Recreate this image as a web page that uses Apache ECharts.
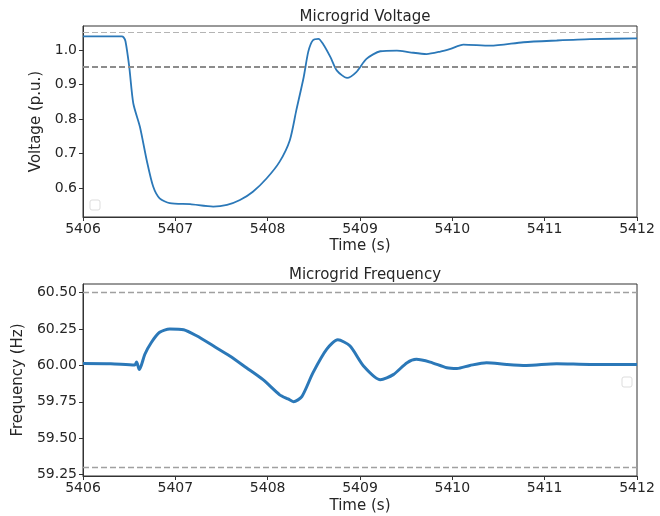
<!DOCTYPE html>
<html>
<head>
<meta charset="utf-8">
<script src="https://cdn.jsdelivr.net/npm/echarts@6/dist/echarts.min.js"></script>
<style>
  html, body { margin: 0; padding: 0; background: #fff; }
  #chart { width: 660px; height: 516px; }
</style>
</head>
<body>
<div id="chart"></div>
<script>
// ---- Data ----
const voltageTime = [5406.00, 5406.42, 5406.44, 5406.46, 5406.50, 5406.545, 5406.617, 5406.69, 5406.76, 5406.83, 5406.94, 5407.16, 5407.41, 5407.56, 5407.70, 5407.84, 5407.99, 5408.13, 5408.24, 5408.31, 5408.39, 5408.44, 5408.49, 5408.55, 5408.60, 5408.68, 5408.75, 5408.86, 5408.96, 5409.07, 5409.22, 5409.40, 5409.54, 5409.72, 5409.87, 5409.98, 5410.12, 5410.41, 5410.77, 5411.13, 5411.49, 5412.00];
const voltageValues = [1.039, 1.039, 1.036, 1.025, 0.953, 0.845, 0.777, 0.681, 0.605, 0.571, 0.557, 0.554, 0.547, 0.552, 0.566, 0.590, 0.629, 0.677, 0.739, 0.825, 0.921, 0.995, 1.028, 1.032, 1.017, 0.979, 0.940, 0.919, 0.936, 0.974, 0.996, 0.998, 0.993, 0.988, 0.995, 1.003, 1.015, 1.012, 1.022, 1.027, 1.031, 1.033];

const freqTime = [5406.00, 5406.30, 5406.56, 5406.58, 5406.61, 5406.67, 5406.74, 5406.83, 5406.94, 5407.09, 5407.23, 5407.41, 5407.59, 5407.77, 5407.95, 5408.13, 5408.22, 5408.28, 5408.37, 5408.49, 5408.64, 5408.76, 5408.89, 5409.04, 5409.22, 5409.36, 5409.51, 5409.61, 5409.76, 5409.94, 5410.05, 5410.19, 5410.37, 5410.59, 5410.80, 5411.13, 5411.49, 5412.00];
const freqValues = [60.014, 60.012, 60.003, 60.023, 59.972, 60.077, 60.158, 60.228, 60.251, 60.246, 60.204, 60.135, 60.065, 59.984, 59.902, 59.798, 59.770, 59.751, 59.786, 59.949, 60.112, 60.176, 60.135, 59.995, 59.902, 59.937, 60.019, 60.042, 60.023, 59.984, 59.979, 60.000, 60.019, 60.007, 60.000, 60.012, 60.007, 60.007];

const voltageLimits = [0.95, 1.05];
const freqLimits = [59.3, 60.5];

const xTicks = [5406, 5407, 5408, 5409, 5410, 5411, 5412];
const voltageTicks = [0.6, 0.7, 0.8, 0.9, 1.0];
const freqTicks = [59.25, 59.5, 59.75, 60.0, 60.25, 60.5];

const titles = ['Microgrid Voltage', 'Microgrid Frequency'];
const xName = 'Time (s)';
const yNames = ['Voltage (p.u.)', 'Frequency (Hz)'];

// ---- Chart ----
const FONT = 'DejaVu Sans';
const DARK = '#262626';
const BLUE = '#2b78b8';

const zip = (a, b) => a.map((v, i) => [v, b[i]]);

function xAxis(gridIndex, gap) {
  return {
    type: 'value', gridIndex,
    min: xTicks[0], max: xTicks[xTicks.length - 1], interval: 1,
    name: xName, nameLocation: 'middle', nameGap: gap,
    nameTextStyle: { fontFamily: FONT, fontSize: 15, color: DARK },
    axisLine: { show: true, onZero: false, lineStyle: { color: '#333', width: 1 } },
    axisTick: { show: true, inside: false, length: 4, lineStyle: { color: '#333' } },
    axisLabel: { fontFamily: FONT, fontSize: 14, color: DARK, margin: 5, formatter: v => String(v) },
    splitLine: { show: false }
  };
}

function yAxis(gridIndex, min, max, ticks, decimals, name, gap) {
  return {
    type: 'value', gridIndex, min, max,
    name, nameLocation: 'middle', nameGap: gap, nameRotate: 90,
    nameTextStyle: { fontFamily: FONT, fontSize: 15, color: DARK },
    axisLine: { show: true, onZero: false, lineStyle: { color: '#333', width: 1 } },
    axisTick: { show: true, inside: false, length: 4, lineStyle: { color: '#333' }, customValues: ticks },
    axisLabel: { fontFamily: FONT, fontSize: 14, color: DARK, margin: 6, customValues: ticks, formatter: v => Number(v).toFixed(decimals) },
    splitLine: { show: false }
  };
}

function limitLines(vals, colors, widths) {
  return {
    silent: true, symbol: 'none', animation: false,
    label: { show: false },
    data: vals.map((v, i) => ({ yAxis: v, lineStyle: { color: colors[i], width: widths[i], type: [6, 3] } }))
  };
}

const chart = echarts.init(document.getElementById('chart'), null, { renderer: 'canvas' });
chart.setOption({
  animation: false,
  backgroundColor: '#fff',
  title: [
    { text: titles[0], left: 360, top: 5, textAlign: 'center', textStyle: { fontFamily: FONT, fontSize: 15, fontWeight: 'normal', color: DARK } },
    { text: titles[1], left: 360, top: 263, textAlign: 'center', textStyle: { fontFamily: FONT, fontSize: 15, fontWeight: 'normal', color: DARK } }
  ],
  grid: [
    { left: 83, top: 26, width: 554, height: 191, show: true, borderColor: '#333', borderWidth: 1, backgroundColor: '#fff' },
    { left: 83, top: 284, width: 554, height: 192, show: true, borderColor: '#333', borderWidth: 1, backgroundColor: '#fff' }
  ],
  xAxis: [xAxis(0, 22), xAxis(1, 23)],
  yAxis: [
    yAxis(0, 0.517, 1.069, voltageTicks, 1, yNames[0], 35),
    yAxis(1, 59.24, 60.56, freqTicks, 2, yNames[1], 53)
  ],
  series: [
    {
      type: 'line', xAxisIndex: 0, yAxisIndex: 0,
      data: zip(voltageTime, voltageValues),
      showSymbol: false, smooth: 0.25,
      lineStyle: { color: BLUE, width: 1.8 },
      markLine: limitLines(voltageLimits, ['#8c8c8c', '#b4b4b4'], [1.8, 1.2]),
      z: 3
    },
    {
      type: 'line', xAxisIndex: 1, yAxisIndex: 1,
      data: zip(freqTime, freqValues),
      showSymbol: false, smooth: 0.25,
      lineStyle: { color: BLUE, width: 3 },
      markLine: limitLines(freqLimits, ['#a0a0a0', '#a0a0a0'], [1.4, 1.4]),
      z: 3
    }
  ],
  graphic: [
    { type: 'rect', shape: { x: 90, y: 200, width: 10, height: 10, r: 2 }, style: { fill: '#fff', stroke: '#dddddd', lineWidth: 1 } },
    { type: 'rect', shape: { x: 622, y: 377, width: 10, height: 10, r: 2 }, style: { fill: '#fff', stroke: '#dddddd', lineWidth: 1 } }
  ]
});
</script>
</body>
</html>
